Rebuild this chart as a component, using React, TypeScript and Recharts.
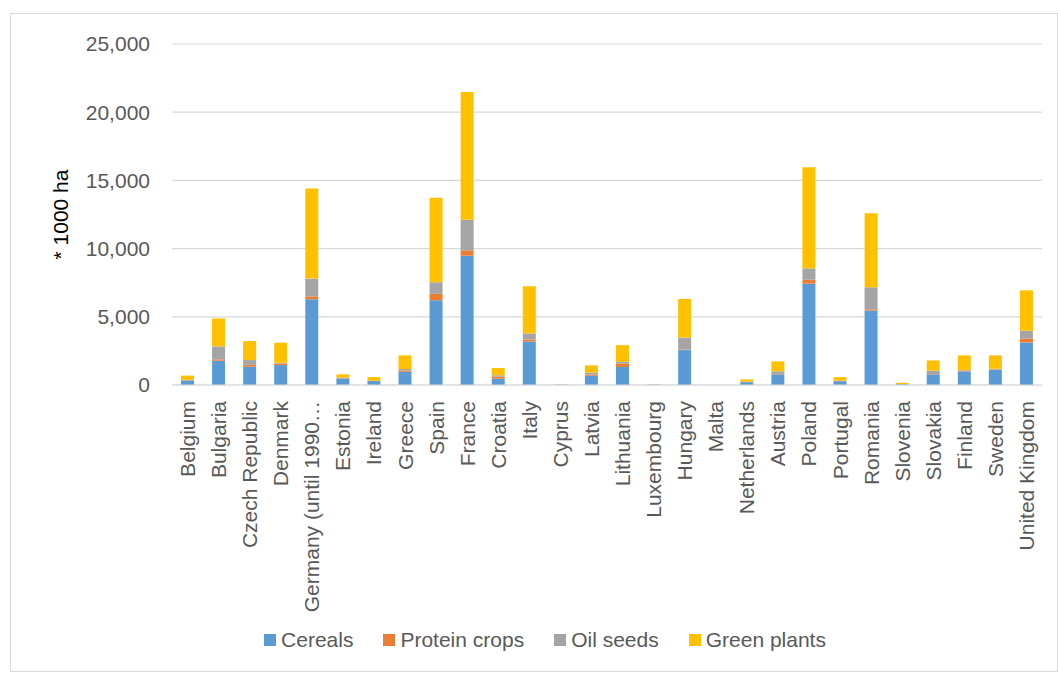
import React from 'react';
import { BarChart, Bar, XAxis, YAxis, CartesianGrid, Legend } from 'recharts';

// Area per crop group, * 1000 ha
const countries = [
  'Belgium', 'Bulgaria', 'Czech Republic', 'Denmark', 'Germany (until 1990\u2026', 'Estonia',
  'Ireland', 'Greece', 'Spain', 'France', 'Croatia', 'Italy', 'Cyprus', 'Latvia', 'Lithuania',
  'Luxembourg', 'Hungary', 'Malta', 'Netherlands', 'Austria', 'Poland', 'Portugal', 'Romania',
  'Slovenia', 'Slovakia', 'Finland', 'Sweden', 'United Kingdom',
];
const cereals = [330, 1780, 1340, 1460, 6290, 440, 290, 970, 6210, 9480, 460, 3190, 30, 680, 1320, 30, 2560, 0, 210, 780, 7430, 280, 5460, 60, 780, 1000, 1100, 3120];
const proteinCrops = [10, 100, 140, 120, 210, 20, 10, 100, 470, 390, 150, 150, 0, 80, 240, 5, 30, 0, 10, 30, 290, 20, 90, 5, 20, 40, 40, 290];
const oilSeeds = [30, 950, 350, 50, 1300, 80, 10, 100, 850, 2240, 100, 440, 0, 140, 140, 5, 890, 0, 20, 190, 830, 20, 1610, 5, 250, 40, 50, 560];
const greenPlants = [320, 2050, 1390, 1470, 6600, 240, 270, 1000, 6190, 9380, 540, 3460, 10, 540, 1220, 20, 2830, 0, 170, 730, 7410, 260, 5440, 90, 750, 1090, 980, 2970];
const yTicks = [0, 5000, 10000, 15000, 20000, 25000];

const series = [
  { key: 'cereals', name: 'Cereals', color: '#5B9BD5' },
  { key: 'protein', name: 'Protein crops', color: '#ED7D31' },
  { key: 'oil', name: 'Oil seeds', color: '#A5A5A5' },
  { key: 'green', name: 'Green plants', color: '#FFC000' },
];

const data = countries.map((c, i) => ({
  country: c,
  cereals: cereals[i],
  protein: proteinCrops[i],
  oil: oilSeeds[i],
  green: greenPlants[i],
}));

const FONT = '"Liberation Sans", Arial, sans-serif';
const TEXT = '#595959';

const CountryTick = (props: any) => {
  const { x, y, payload } = props;
  return (
    <g transform={`translate(${x},${y + 14})`}>
      <text
        transform="rotate(-90)"
        textAnchor="end"
        dominantBaseline="central"
        fill={TEXT}
        fontSize={21}
        fontFamily={FONT}
      >
        {payload.value}
      </text>
    </g>
  );
};

const LegendBox = () => (
  <div
    style={{
      height: 40,
      display: 'flex',
      justifyContent: 'center',
      alignItems: 'center',
      paddingLeft: 37,
      fontFamily: FONT,
      fontSize: 21,
      color: TEXT,
    }}
  >
    {series.map((s) => (
      <div key={s.key} style={{ display: 'flex', alignItems: 'center', margin: '0 15px' }}>
        <span style={{ width: 12, height: 12, background: s.color, display: 'inline-block', marginRight: 5 }} />
        <span>{s.name}</span>
      </div>
    ))}
  </div>
);

export default function App() {
  return (
    <div
      style={{
        position: 'absolute',
        left: 10,
        top: 13,
        width: 1046,
        height: 657,
        border: '1px solid #d9d9d9',
        background: '#fff',
      }}
    >
      <BarChart
        width={1046}
        height={657}
        data={data}
        margin={{ top: 30, right: 15, left: 0, bottom: 11 }}
      >
        <CartesianGrid vertical={false} stroke="#d9d9d9" strokeWidth={1.2} />
        <XAxis
          dataKey="country"
          interval={0}
          height={235}
          tick={<CountryTick />}
          tickLine={false}
          tickSize={0}
          axisLine={{ stroke: '#d9d9d9', strokeWidth: 1.2 }}
        />
        <YAxis
          width={161}
          domain={[0, 25000]}
          ticks={yTicks}
          tickFormatter={(v: number) => v.toLocaleString('en-US')}
          tick={{ fill: TEXT, fontSize: 21, fontFamily: FONT }}
          tickLine={false}
          axisLine={false}
          tickSize={0}
          tickMargin={22}
          label={{
            value: '* 1000 ha',
            angle: -90,
            position: 'center',
            dx: -31,
            style: { fill: '#000', fontSize: 21, fontFamily: FONT },
          }}
        />
        <Legend verticalAlign="bottom" content={<LegendBox />} />
        {series.map((s) => (
          <Bar
            key={s.key}
            dataKey={s.key}
            name={s.name}
            stackId="a"
            fill={s.color}
            barSize={13}
            isAnimationActive={false}
          />
        ))}
      </BarChart>
    </div>
  );
}
